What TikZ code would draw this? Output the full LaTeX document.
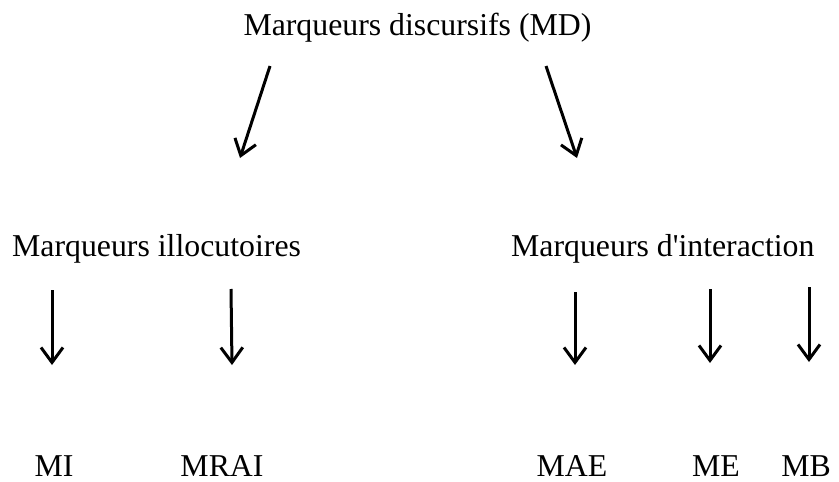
\documentclass[tikz,border=0pt]{standalone}
\usepackage{fontspec}
\setmainfont{Liberation Serif}
\usetikzlibrary{arrows.meta}
\begin{document}
\begin{tikzpicture}[x=1pt,y=-1pt,
  lbl/.style={anchor=base,inner sep=0pt,font=\fontsize{31.8}{38}\selectfont},
  arr/.style={line width=3pt,-{Straight Barb[length=15pt,width=22pt,line width=3pt]}}]
\useasboundingbox (0,0) rectangle (839,482);
\node[lbl] (md) at (417.5,35) {Marqueurs discursifs (MD)};
\node[lbl,anchor=base west] (il) at (12,256) {Marqueurs illocutoires};
\node[lbl,anchor=base west] (in) at (511,256) {Marqueurs d\textquotesingle interaction};
\node[lbl] (mi) at (54,476) {MI};
\node[lbl] (mrai) at (222,476) {MRAI};
\node[lbl] (mae) at (572,476) {MAE};
\node[lbl] (me) at (716,476) {ME};
\node[lbl] (mb) at (806,476) {MB};
\coordinate (a1s) at (270,66); \coordinate (a1e) at (240,158);
\coordinate (a2s) at (546,66); \coordinate (a2e) at (577,158);
\coordinate (b1s) at (52,290); \coordinate (b1e) at (52,365);
\coordinate (b2s) at (231,289); \coordinate (b2e) at (232,365);
\coordinate (b3s) at (575,292); \coordinate (b3e) at (575,365);
\coordinate (b4s) at (710,289); \coordinate (b4e) at (710,363);
\coordinate (b5s) at (809,287); \coordinate (b5e) at (809,362);
\draw[arr] (a1s) -- (a1e);
\draw[arr] (a2s) -- (a2e);
\draw[arr] (b1s) -- (b1e);
\draw[arr] (b2s) -- (b2e);
\draw[arr] (b3s) -- (b3e);
\draw[arr] (b4s) -- (b4e);
\draw[arr] (b5s) -- (b5e);
\end{tikzpicture}
\end{document}
